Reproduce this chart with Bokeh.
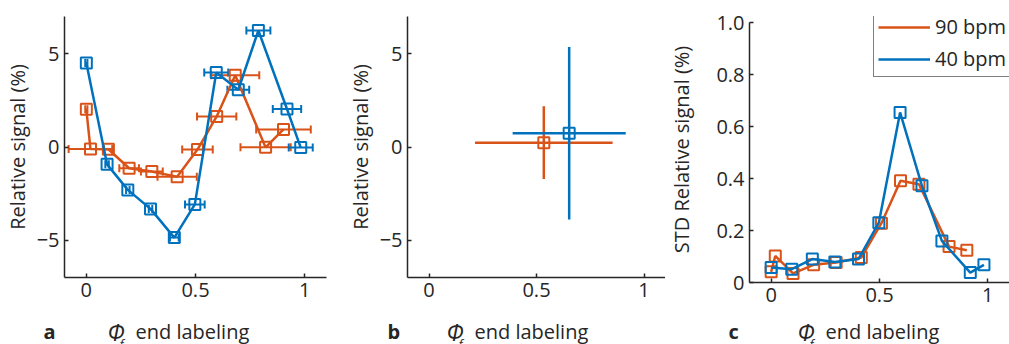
import pandas as pd
from bokeh.plotting import figure
from bokeh.layouts import row, column
from bokeh.models import (Range1d, FixedTicker, ColumnDataSource, Whisker, TeeHead,
                          Legend, LegendItem)
from bokeh.core.properties import value
from bokeh.embed import file_html
from bokeh.resources import INLINE

# ---------------- data ----------------
# panel a: mean relative signal vs phi (x) with horizontal error bars
phi_90 = [0.0, 0.019, 0.101, 0.196, 0.300, 0.416, 0.509, 0.597, 0.682, 0.821, 0.903]
sig_90 = [2.02, -0.11, -0.12, -1.14, -1.32, -1.60, -0.14, 1.64, 3.85, -0.02, 0.94]
xerr_90 = [0.005, 0.10, 0.02, 0.045, 0.05, 0.09, 0.07, 0.09, 0.11, 0.115, 0.125]

phi_40 = [0.0, 0.095, 0.190, 0.294, 0.403, 0.497, 0.595, 0.696, 0.788, 0.919, 0.982]
sig_40 = [4.5, -0.93, -2.30, -3.32, -4.86, -3.08, 4.0, 3.07, 6.25, 2.04, -0.03]
xerr_40 = [0.005, 0.008, 0.008, 0.008, 0.02, 0.045, 0.055, 0.05, 0.055, 0.065, 0.055]

# panel b: overall mean with x / y error
b_phi = {"90 bpm": 0.534, "40 bpm": 0.652}
b_sig = {"90 bpm": 0.23, "40 bpm": 0.74}
b_xerr = {"90 bpm": 0.32, "40 bpm": 0.263}
b_yerr = {"90 bpm": 1.95, "40 bpm": 4.63}

# panel c: standard deviation of relative signal
std_90 = [0.041, 0.102, 0.035, 0.068, 0.077, 0.096, 0.228, 0.391, 0.378, 0.138, 0.124]
std_40 = [0.058, 0.051, 0.090, 0.079, 0.090, 0.230, 0.654, 0.372, 0.160, 0.038, 0.068]

x_ticks = [0, 0.5, 1]
x_tick_labels = {0: "0", 0.5: "0.5", 1: "1"}
y_ticks_ab = [-5, 0, 5]
y_ticks_c = [0, 0.2, 0.4, 0.6, 0.8, 1.0]
y_tick_labels_c = {0: "0", 0.2: "0.2", 0.4: "0.4", 0.6: "0.6", 0.8: "0.8", 1.0: "1.0"}

panel_letters = ["a", "b", "c"]
xlabel_text = "end labeling"
xlabel_symbol = "Φ"
xlabel_sub = "f"

ORANGE = "#D95319"
BLUE = "#0072BD"
TXT = "#262626"
FONT = "Open Sans"
FS = "20px"
ROW_H = 316
STRIP_H = 344 - ROW_H


def base_fig(fw, fh, left, right, top, yr):
    p = figure(frame_width=fw, frame_height=fh, min_border_left=left, min_border_right=right,
               min_border_top=top, min_border_bottom=ROW_H - top - fh,
               x_range=Range1d(-0.1, 1.1), y_range=Range1d(*yr),
               output_backend="svg", toolbar_location=None, tools="")
    p.outline_line_color = None
    p.xgrid.visible = False
    p.ygrid.visible = False
    p.background_fill_color = "white"
    p.border_fill_color = "white"
    for ax in (p.xaxis[0], p.yaxis[0]):
        ax.axis_line_color = TXT
        ax.axis_line_width = 1.5
        ax.major_tick_line_color = TXT
        ax.major_tick_line_width = 1.5
        ax.major_tick_in = 4
        ax.major_tick_out = 0
        ax.minor_tick_line_color = None
        ax.major_label_text_font = FONT
        ax.major_label_text_font_size = FS
        ax.major_label_text_color = TXT
        ax.axis_label_text_font = FONT
        ax.axis_label_text_font_size = FS
        ax.axis_label_text_font_style = "normal"
        ax.axis_label_text_color = TXT
    p.xaxis.ticker = FixedTicker(ticks=x_ticks)
    p.xaxis.major_label_overrides = x_tick_labels
    p.xaxis.major_label_standoff = 5
    p.yaxis.major_label_standoff = 5
    return p


# ---------------- panel a ----------------
pa = base_fig(262, 261, 63, 14, 16, (-7, 7))
pa.yaxis.ticker = FixedTicker(ticks=y_ticks_ab)
pa.yaxis.axis_label = "Relative signal (%)"
pa.yaxis.axis_label_standoff = 3

for phi, sig, xerr, col in ((phi_90, sig_90, xerr_90, ORANGE), (phi_40, sig_40, xerr_40, BLUE)):
    df = pd.DataFrame({"x": phi, "y": sig, "e": xerr})
    df["lo"] = df["x"] - df["e"]
    df["hi"] = df["x"] + df["e"]
    src = ColumnDataSource(df)
    pa.add_layout(Whisker(source=src, base="y", lower="lo", upper="hi", dimension="width",
                          line_color=col, line_width=2,
                          lower_head=TeeHead(size=8, line_color=col, line_width=2),
                          upper_head=TeeHead(size=8, line_color=col, line_width=2)))
    pa.line("x", "y", source=src, line_color=col, line_width=2.5)
    pa.scatter("x", "y", source=src, marker="square", size=11, fill_color=None,
               line_color=col, line_width=2)

# ---------------- panel b ----------------
pb = base_fig(258, 261, 67, 0, 16, (-7, 7))
pb.yaxis.ticker = FixedTicker(ticks=y_ticks_ab)
pb.yaxis.axis_label = "Relative signal (%)"
pb.yaxis.axis_label_standoff = 3
for key, col in (("90 bpm", ORANGE), ("40 bpm", BLUE)):
    x, y, ex, ey = b_phi[key], b_sig[key], b_xerr[key], b_yerr[key]
    src = ColumnDataSource(dict(x=[x], y=[y], x0=[x - ex], x1=[x + ex], y0=[y - ey], y1=[y + ey]))
    pb.segment("x0", "y", "x1", "y", source=src, line_color=col, line_width=2.5)
    pb.segment("x", "y0", "x", "y1", source=src, line_color=col, line_width=2.5)
    pb.scatter("x", "y", source=src, marker="square", size=11, fill_color=None,
               line_color=col, line_width=2)

# ---------------- panel c ----------------
# frame reaches a little above 1.0 so the legend box fits; the axis line stops at 1.0
pc = base_fig(260, 266, 84, 0, 12, (0, 1.0 + 6 / 260))
pc.yaxis.ticker = FixedTicker(ticks=y_ticks_c)
pc.yaxis.major_label_overrides = y_tick_labels_c
pc.yaxis.bounds = (0, 1)
pc.yaxis.axis_label = "STD Relative signal (%)"
pc.yaxis.axis_label_standoff = 18
items = []
for phi, sd, col, name in ((phi_90, std_90, ORANGE, "90 bpm"), (phi_40, std_40, BLUE, "40 bpm")):
    src = ColumnDataSource(dict(x=phi, y=sd))
    r = pc.line("x", "y", source=src, line_color=col, line_width=2.5)
    pc.scatter("x", "y", source=src, marker="square", size=11, fill_color=None,
               line_color=col, line_width=2)
    items.append(LegendItem(label=name, renderers=[r]))
leg = Legend(items=items, location=(124, 205), border_line_color="black", border_line_width=1.5,
             background_fill_color="white", background_fill_alpha=1.0,
             label_text_font=FONT, label_text_font_size=FS, label_text_color=TXT,
             glyph_width=52, glyph_height=24, label_height=24, label_standoff=5,
             padding=4, spacing=5, margin=0)
pc.add_layout(leg)

# ---------------- bottom strip with x-axis titles and panel letters ----------------
strip = figure(frame_width=1009, frame_height=STRIP_H, min_border=0,
               x_range=Range1d(0, 1009), y_range=Range1d(0, STRIP_H),
               x_axis_type=None, y_axis_type=None,
               output_backend="svg", toolbar_location=None, tools="")
strip.outline_line_color = None
strip.xgrid.visible = False
strip.ygrid.visible = False
strip.background_fill_color = "white"
strip.border_fill_color = "white"

letter_x = [43, 387, 728]
phi_x = [107, 446, 797]
text_x = [135, 474, 825]
base_y = 13
strip.text(x=letter_x, y=[base_y] * 3, text=panel_letters, text_font=value(FONT),
           text_font_size=value(FS), text_font_style="bold", text_color=TXT,
           text_baseline="alphabetic", text_align="left")
strip.text(x=phi_x, y=[base_y] * 3, text=[xlabel_symbol] * 3, text_font=value(FONT),
           text_font_size=value("23px"), text_font_style="italic", text_color=TXT,
           text_baseline="alphabetic", text_align="left")
strip.text(x=[v + 12 for v in phi_x], y=[0.5] * 3, text=[xlabel_sub] * 3,
           text_font=value(FONT), text_font_size=value("13px"), text_font_style="italic",
           text_color=TXT, text_baseline="alphabetic", text_align="left")
strip.text(x=text_x, y=[base_y] * 3, text=[xlabel_text] * 3, text_font=value(FONT),
           text_font_size=value(FS), text_color=TXT,
           text_baseline="alphabetic", text_align="left")

layout = column(row(pa, pb, pc, spacing=0), strip, spacing=0)
open("out.html", "w").write(file_html(layout, INLINE))
